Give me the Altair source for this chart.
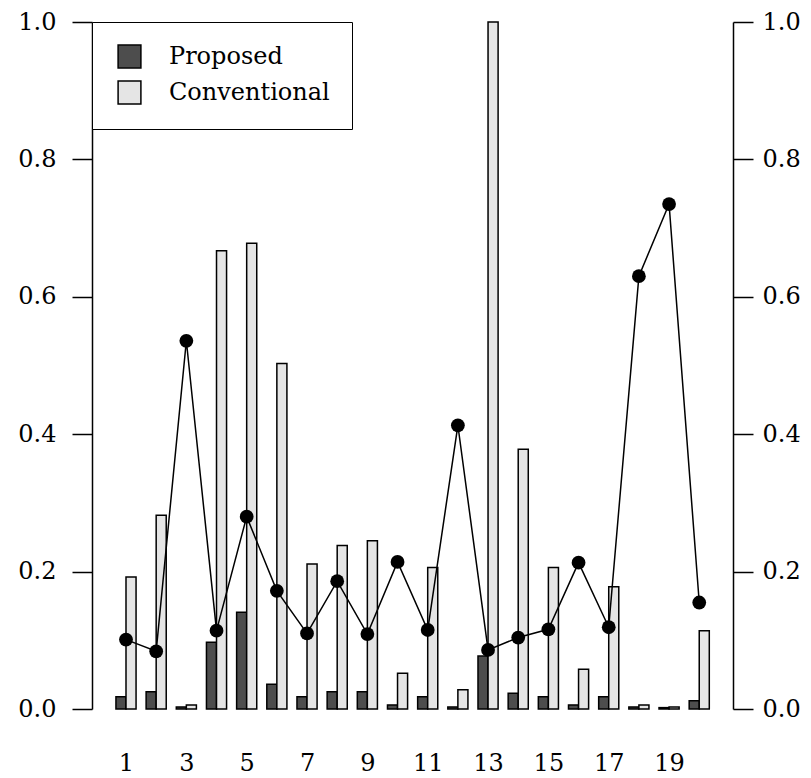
import altair as alt
import pandas as pd

groups = list(range(1, 21))
proposed = [0.018, 0.025, 0.003, 0.097, 0.141, 0.036, 0.018, 0.025, 0.025, 0.006,
            0.018, 0.003, 0.077, 0.023, 0.018, 0.006, 0.018, 0.003, 0.002, 0.012]
conventional = [0.192, 0.282, 0.006, 0.667, 0.678, 0.503, 0.211, 0.238, 0.245, 0.052,
                0.206, 0.028, 1.000, 0.378, 0.206, 0.058, 0.178, 0.006, 0.003, 0.114]
ratio = [0.101, 0.084, 0.536, 0.114, 0.280, 0.172, 0.110, 0.186, 0.109, 0.214,
         0.115, 0.413, 0.086, 0.104, 0.116, 0.213, 0.119, 0.630, 0.735, 0.155]
series_names = ["Proposed", "Conventional"]
series_colors = ["#4d4d4d", "#e5e5e5"]
x_labels = [1, 3, 5, 7, 9, 11, 13, 15, 17, 19]
y_ticks = [0.0, 0.2, 0.4, 0.6, 0.8, 1.0]

FONT = "DejaVu Serif"

bars_df = pd.DataFrame({
    "group": groups * 2,
    "series": ["Proposed"] * 20 + ["Conventional"] * 20,
    "value": proposed + conventional,
})
line_df = pd.DataFrame({"group": groups, "ratio": ratio})

xscale = alt.Scale(domain=[-0.127, 21.119], nice=False, zero=False)
yscale = alt.Scale(domain=[0, 1], nice=False)

x_axis = alt.Axis(values=x_labels, format="d", domain=False, ticks=False, tickSize=0,
                  grid=False, labelPadding=42, labelFont=FONT, labelFontSize=24,
                  labelColor="black", labelFlush=False, labelOverlap=False, title=None)

def y_axis(orient, pad):
    return alt.Axis(orient=orient, values=y_ticks, format=".1f", grid=False,
                    tickSize=20, tickWidth=1.5, tickColor="black",
                    domainColor="black", domainWidth=1.5, labelPadding=pad,
                    labelFont=FONT, labelFontSize=24, labelColor="black",
                    labelFlush=False, labelOverlap=False, title=None)

bars = alt.Chart(bars_df).transform_calculate(
    x0="datum.group + (datum.series == 'Proposed' ? -1/3 : 0)",
    x1="datum.group + (datum.series == 'Proposed' ? 0 : 1/3)",
    base="0",
).mark_bar(stroke="black", strokeWidth=1.5).encode(
    x=alt.X("x0:Q", scale=xscale, axis=x_axis),
    x2="x1:Q",
    y=alt.Y("value:Q", scale=yscale, axis=y_axis("left", 16)),
    y2="base:Q",
    color=alt.Color("series:N", sort=series_names,
                    scale=alt.Scale(domain=series_names, range=series_colors),
                    legend=alt.Legend(title=None, orient="none", legendX=0, legendY=0,
                                      symbolType="square", symbolSize=520,
                                      symbolStrokeColor="black", symbolStrokeWidth=1.5,
                                      symbolOffset=3,
                                      labelFont=FONT, labelFontSize=24, labelColor="black",
                                      labelOffset=27, rowPadding=7, padding=22,
                                      strokeColor="black", fillColor="white",
                                      labelLimit=400)),
)

yr_axis = y_axis("right", 9)
line = alt.Chart(line_df).mark_line(color="black", strokeWidth=1.5).encode(
    x=alt.X("group:Q", scale=xscale),
    y=alt.Y("ratio:Q", scale=yscale, axis=yr_axis),
)
points = alt.Chart(line_df).mark_circle(color="black", opacity=1, size=190).encode(
    x=alt.X("group:Q", scale=xscale),
    y=alt.Y("ratio:Q", scale=yscale, axis=yr_axis),
)

right = alt.layer(line, points)

chart = alt.layer(bars, right).resolve_scale(y="independent").properties(
    width=641, height=687,
    background="white",
    autosize=alt.AutoSizeParams(type="none"),
    padding={"left": 84, "top": 14, "right": 70, "bottom": 66},
).configure_view(strokeWidth=0)

chart.save("out.html", embed_options={"renderer": "svg", "actions": False})
